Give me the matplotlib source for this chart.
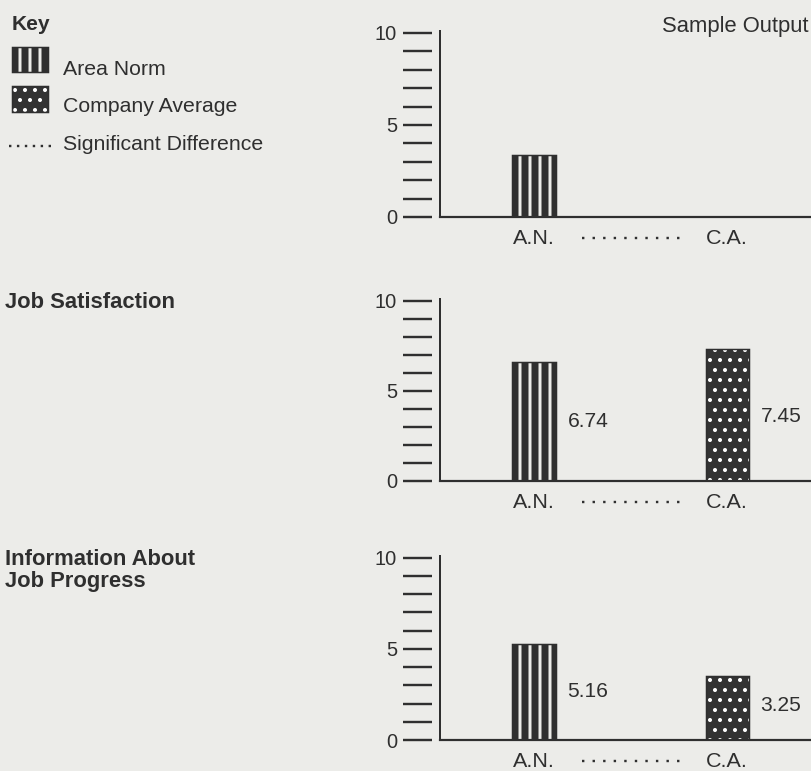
import matplotlib
matplotlib.use("Agg")
import matplotlib.pyplot as plt
from matplotlib.patches import Rectangle
from matplotlib.lines import Line2D
from matplotlib.transforms import offset_copy

# chart data
categories = ["A.N.", "C.A."]
area_norm = [3.35, 6.6, 5.27]          # bar heights as drawn
company_avg = [None, 7.3, 3.5]         # first panel has no C.A. bar
area_norm_labels = ["", "6.74", "5.16"]
company_avg_labels = ["", "7.45", "3.25"]
significant = [True, True, True]
panel_titles = [[], ["Job Satisfaction"], ["Information About", "Job Progress"]]
key_labels = ["Area Norm", "Company Average", "Significant Difference"]

# layout (pixels of the 811x771 picture)
DPI = 120
W, H = 811, 771
PT = 72 / DPI          # points per pixel
zero_y = [217, 481, 740]
axes_h = [186, 182, 184]
title_y = [None, [308], [565, 587]]

PAPER = "#ecece9"
INK = "#2f2f2f"
BAR_W = 0.223
STRIPE_LW = 4.2
DOT_LW = 1.2

plt.rcParams["font.family"] = ["Liberation Sans", "DejaVu Sans"]
plt.rcParams["text.color"] = INK


def fx(px):
    return px / W


def fy(py):
    return 1 - py / H


def striped(artist):
    artist.set_hatch("||")
    if hasattr(artist, "set_hatch_linewidth"):
        artist.set_hatch_linewidth(STRIPE_LW)


def dotted(artist):
    artist.set_hatch("..")
    if hasattr(artist, "set_hatch_linewidth"):
        artist.set_hatch_linewidth(DOT_LW)


fig = plt.figure(figsize=(W / DPI, H / DPI), dpi=DPI, facecolor=PAPER)
plt.rcParams["hatch.linewidth"] = STRIPE_LW

for i in range(3):
    ax = fig.add_axes([fx(440), fy(zero_y[i]), 1 - fx(440), axes_h[i] / H])
    ax.patch.set_visible(False)
    ax.set_xlim(-0.487, 1.435)
    ax.set_ylim(0, 10.1)

    for s in ["top", "right"]:
        ax.spines[s].set_visible(False)
    ax.spines["left"].set_position(("outward", 8 * PT))
    ax.spines["left"].set_visible(False)
    ax.spines["bottom"].set_linewidth(2.2 * PT)
    ax.spines["bottom"].set_color(INK)
    ax.axvline(-0.487, color=INK, lw=2.0 * PT, clip_on=False)

    ax.set_yticks([0, 5, 10])
    ax.set_yticks([1, 2, 3, 4, 6, 7, 8, 9], minor=True)
    ax.tick_params(axis="y", which="both", direction="out", length=29 * PT,
                   width=2.4 * PT, color=INK, pad=6 * PT, labelsize=20 * PT,
                   labelcolor=INK)
    ax.set_xticks([0, 1], categories)
    ax.tick_params(axis="x", length=0, pad=12 * PT, labelsize=21.5 * PT,
                   labelcolor=INK)

    # Area Norm bar
    b = ax.bar(0, area_norm[i], width=BAR_W, facecolor=PAPER,
               edgecolor=INK, lw=1.5 * PT)[0]
    striped(b)
    if area_norm_labels[i]:
        ax.annotate(area_norm_labels[i], xy=(BAR_W / 2, 0.45 * area_norm[i]),
                    xytext=(12 * PT, 0), textcoords="offset points",
                    ha="left", va="baseline", fontsize=21 * PT)

    # Company Average bar
    if company_avg[i] is not None:
        with plt.rc_context({"hatch.linewidth": DOT_LW}):
            d = ax.bar(1, company_avg[i], width=BAR_W, facecolor="#333333",
                       edgecolor="white", lw=0)[0]
            dotted(d)
        ax.bar(1, company_avg[i], width=BAR_W, facecolor="none",
               edgecolor=INK, lw=1.5 * PT)
        ax.annotate(company_avg_labels[i], xy=(1 + BAR_W / 2, 0.45 * company_avg[i]),
                    xytext=(12 * PT, 0), textcoords="offset points",
                    ha="left", va="baseline", fontsize=21 * PT)

    # significance dots between the category labels
    if significant[i]:
        trans = offset_copy(ax.get_xaxis_transform(), fig=fig, y=-21, units="dots")
        ax.plot([0.25, 0.77], [0, 0], transform=trans, color=INK,
                lw=2.4 * PT, ls=(0, (1, 3.4)), clip_on=False)

    for line, y in zip(panel_titles[i], title_y[i] or []):
        fig.text(fx(5), fy(y), line, fontsize=22 * PT, fontweight="bold",
                 va="baseline", ha="left")

# key
fig.text(fx(12), fy(30), "Key", fontsize=21 * PT, fontweight="bold", va="baseline")
r1 = Rectangle((fx(12), fy(72)), fx(36), 25 / H, transform=fig.transFigure,
               facecolor=PAPER, edgecolor=INK, lw=1.5 * PT)
striped(r1)
fig.add_artist(r1)
with plt.rc_context({"hatch.linewidth": DOT_LW}):
    r2 = Rectangle((fx(12), fy(112)), fx(36), 26 / H, transform=fig.transFigure,
                   facecolor="#333333", edgecolor="white", lw=0)
    dotted(r2)
fig.add_artist(r2)
fig.add_artist(Rectangle((fx(12), fy(112)), fx(36), 26 / H, transform=fig.transFigure,
                         facecolor="none", edgecolor=INK, lw=1.5 * PT))
fig.add_artist(Line2D([fx(9), fx(51)], [fy(146), fy(146)], color=INK,
                      lw=2.4 * PT, ls=(0, (1, 2.3))))
for lab, y in zip(key_labels, [75, 112, 150]):
    fig.text(fx(63), fy(y), lab, fontsize=21.3 * PT, va="baseline")

fig.text(fx(662), fy(32), "Sample Output", fontsize=22 * PT, va="baseline")

fig.savefig("out.png", dpi=DPI, facecolor=PAPER)
